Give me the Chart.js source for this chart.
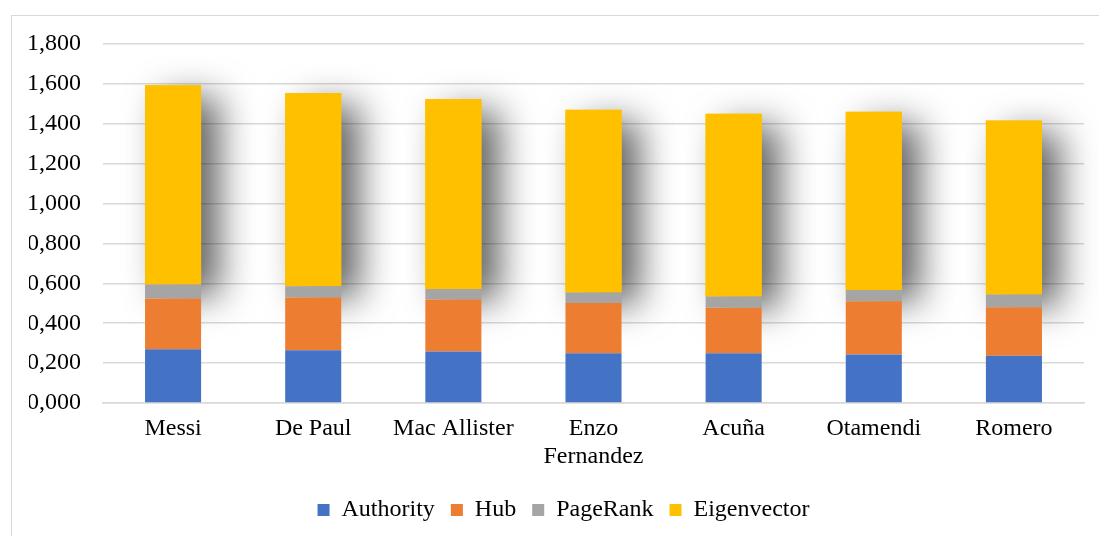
<!DOCTYPE html>
<html>
<head>
<meta charset="utf-8">
<script src="https://cdn.jsdelivr.net/npm/chart.js@4/dist/chart.umd.min.js"></script>
<style>
  html, body { margin: 0; padding: 0; background: #fff; overflow: hidden; }
  #frame {
    position: absolute; left: 11px; top: 15px;
    width: 1200px; height: 700px;
    border: 1.5px solid #d9d9d9;
  }
  #wrap { position: absolute; left: 0; top: 0; width: 1099px; height: 536px; }
</style>
</head>
<body>
<div id="frame"></div>
<div id="wrap"><canvas id="centrality"></canvas></div>
<script>
const players = ['Messi', 'De Paul', 'Mac Allister', ['Enzo', 'Fernandez'], 'Acuña', 'Otamendi', 'Romero'];
const authority   = [0.270, 0.265, 0.258, 0.250, 0.250, 0.243, 0.237];
const hub         = [0.254, 0.264, 0.261, 0.252, 0.228, 0.267, 0.243];
const pageRank    = [0.070, 0.057, 0.053, 0.052, 0.056, 0.056, 0.064];
const eigenvector = [0.999, 0.968, 0.952, 0.916, 0.916, 0.894, 0.872];

const font = { family: "'Liberation Serif', 'Times New Roman', serif", size: 24 };

// soft drop shadow painted behind the top (Eigenvector) segments
const barShadow = {
  id: 'barShadow',
  afterLayout(chart) {
    // nudge the legend row a little to the right
    chart.legend.left += 14;
  },
  beforeDatasetsDraw(chart) {
    const meta = chart.getDatasetMeta(3);
    const ctx = chart.ctx;
    meta.data.forEach(bar => {
      const p = bar.getProps(['x', 'y', 'base', 'width'], true);
      ctx.save();
      ctx.shadowColor = 'rgba(0,0,0,0.62)';
      ctx.shadowBlur = 36;
      ctx.shadowOffsetX = 18;
      ctx.shadowOffsetY = 12;
      ctx.fillStyle = '#FFC000';
      ctx.fillRect(p.x - p.width / 2, p.y, p.width, p.base - p.y);
      ctx.restore();
    });
  }
};

new Chart(document.getElementById('centrality'), {
  type: 'bar',
  data: {
    labels: players,
    datasets: [
      { label: 'Authority', data: authority, backgroundColor: '#4472C4' },
      { label: 'Hub', data: hub, backgroundColor: '#ED7D31' },
      { label: 'PageRank', data: pageRank, backgroundColor: '#A5A5A5' },
      { label: 'Eigenvector', data: eigenvector, backgroundColor: '#FFC000' }
    ]
  },
  options: {
    responsive: true,
    maintainAspectRatio: false,
    animation: false,
    datasets: { bar: { barPercentage: 0.8, categoryPercentage: 0.5 } },
    layout: { padding: { left: 29, right: 15, top: 44, bottom: 4 } },
    plugins: {
      tooltip: { enabled: false },
      legend: {
        position: 'bottom',
        labels: {
          color: '#000',
          font: font,
          boxWidth: 12,
          boxHeight: 12,
          padding: 16
        }
      }
    },
    scales: {
      x: {
        stacked: true,
        afterFit(scale) { scale.height = 79; },
        grid: { display: false, drawTicks: false },
        border: { color: '#d9d9d9', width: 1.5 },
        ticks: { color: '#000', font: { ...font, lineHeight: 1.2 }, padding: 11, maxRotation: 0, autoSkip: false }
      },
      y: {
        stacked: true,
        min: 0,
        max: 1.8,
        afterFit(scale) { scale.width = 74; },
        grid: { color: '#d9d9d9', lineWidth: 1.5, drawTicks: false },
        border: { display: false },
        ticks: {
          stepSize: 0.2,
          color: '#000',
          font: font,
          padding: 22,
          callback: v => v.toFixed(3).replace('.', ',')
        }
      }
    }
  },
  plugins: [barShadow]
});
</script>
</body>
</html>
